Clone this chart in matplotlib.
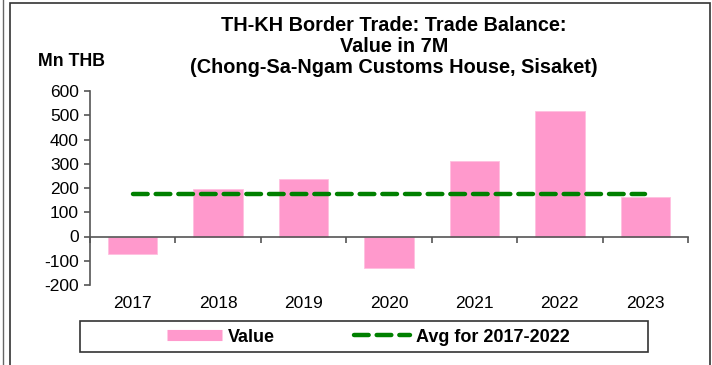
import numpy as np
import matplotlib
matplotlib.use("Agg")
import matplotlib.pyplot as plt
from matplotlib.lines import Line2D
from matplotlib.patches import Rectangle
from matplotlib.transforms import blended_transform_factory

plt.rcParams['font.family'] = ['Liberation Sans', 'DejaVu Sans']

# Trade balance, Jan-Jul of each year (Mn THB)
years = ['2017', '2018', '2019', '2020', '2021', '2022', '2023']
balance = [-72, 194, 237, -130, 311, 517, 161]
avg_2017_2022 = 176
y_ticks = [-200, -100, 0, 100, 200, 300, 400, 500, 600]

PINK = '#FF99CC'
GREEN = '#008000'
W, H = 712, 365

fig = plt.figure(figsize=(W / 100, H / 100), dpi=100)

# Outer frame lines of the chart area
fig.add_artist(Rectangle((10 / W, -0.1), 700 / W, 1.1 - 3 / H, transform=fig.transFigure,
                         fill=False, edgecolor='#333333', linewidth=1.2))
fig.add_artist(Line2D([3 / W, 3 / W], [0, 1], transform=fig.transFigure,
                      color='#666666', linewidth=1.0))

ax = fig.add_axes([90 / W, 1 - 285 / H, (688 - 90) / W, (285 - 91) / H])

x = np.arange(len(years))
ax.bar(x, balance, width=0.58, color=PINK, edgecolor='#FFC0E0', linewidth=0.6, zorder=2)
ax.plot(x, [avg_2017_2022] * len(years), color=GREEN, linewidth=3.2,
        linestyle=(0, (3.3, 1.8)), dash_capstyle='round', zorder=3)

ax.set_xlim(-0.5, len(years) - 0.5)
ax.set_ylim(-200, 600)
ax.set_yticks(y_ticks)
ax.set_yticklabels([str(v) for v in y_ticks], fontsize=12.5)

# Category axis sits on zero, ticks between categories
ax.spines['bottom'].set_position(('data', 0))
for s in ['top', 'right']:
    ax.spines[s].set_visible(False)
for s in ['left', 'bottom']:
    ax.spines[s].set_color('#555555')
    ax.spines[s].set_linewidth(1.2)
ax.set_xticks(np.arange(len(years) + 1) - 0.5)
ax.set_xticklabels([])
ax.tick_params(axis='x', direction='out', length=4, width=1.2, color='#555555')
ax.tick_params(axis='y', direction='out', length=4, width=1.2, color='#555555', pad=4)

trans = blended_transform_factory(ax.transData, fig.transFigure)
for xi, yr in zip(x, years):
    ax.text(xi, 1 - 304 / H, yr, transform=trans, ha='center', va='center', fontsize=12.5)

fig.text(394 / W, 1 - 46.5 / H,
         'TH-KH Border Trade: Trade Balance:\nValue in 7M\n(Chong-Sa-Ngam Customs House, Sisaket)',
         ha='center', va='center', fontsize=14.3, fontweight='bold', linespacing=1.15)
fig.text(72 / W, 1 - 61 / H, 'Mn THB', ha='center', va='center', fontsize=12.8, fontweight='bold')

# Legend with its own box
fig.add_artist(Rectangle((80 / W, 1 - 352 / H), (648 - 80) / W, 31 / H, transform=fig.transFigure,
                         fill=False, edgecolor='#333333', linewidth=1.2))
handles = [Line2D([], [], color=PINK, linewidth=8, solid_capstyle='butt'),
           Line2D([], [], color=GREEN, linewidth=3.2, linestyle=(0, (3.3, 1.8)),
                  dash_capstyle='round')]
fig.legend(handles, ['Value', 'Avg for 2017-2022'], loc='center',
           bbox_to_anchor=(368 / W, 1 - 337 / H), ncol=2, frameon=False,
           prop={'weight': 'bold', 'size': 13}, handlelength=3.1, handletextpad=0.3,
           columnspacing=4.4)

fig.savefig('out.png', dpi=100)
